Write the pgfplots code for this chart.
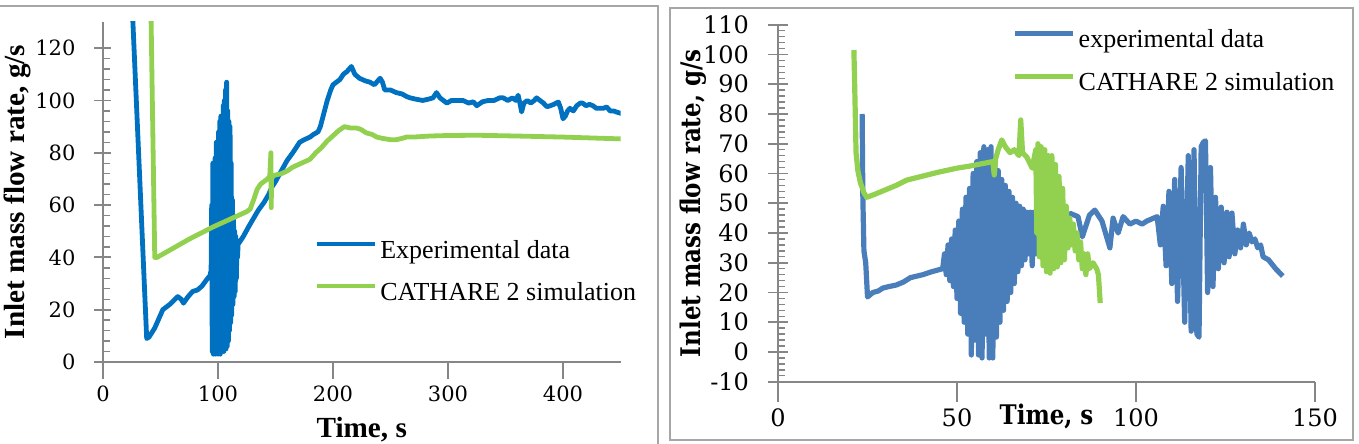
\documentclass[border=0pt]{standalone}
\usepackage{fontspec}
\setmainfont{Liberation Serif}
\newfontfamily\dvs{DejaVu Serif}
\newfontfamily\dvsn[FakeStretch=0.85]{DejaVu Serif}
\usepackage{pgfplots}
\pgfplotsset{compat=1.18}

\definecolor{lblue}{HTML}{0070C0}
\definecolor{lgreen}{HTML}{92D050}
\definecolor{rblue}{HTML}{4A7EBB}
\definecolor{rgreen}{HTML}{92D050}
\definecolor{axisgray}{HTML}{868686}
\definecolor{framegray}{HTML}{A6A6A6}

\pgfplotsset{
  flowaxis/.style={
    scale only axis,
    axis x line*=bottom,
    axis y line*=left,
    axis line style={draw=axisgray, line width=0.9pt},
    major tick style={draw=axisgray, line width=0.9pt},
    minor tick style={draw=axisgray, line width=0.7pt},
    xtick align=outside,
    ytick align=center,
    legend cell align=left,
  },
}

\begin{document}
\begin{tikzpicture}
\useasboundingbox (0pt,0pt) rectangle (679.5pt,222pt);
% panel frames
\draw[framegray, line width=0.8pt] (0pt,219pt) -- (329pt,219pt) -- (329pt,0pt);
\draw[framegray, line width=0.8pt] (335pt,2pt) rectangle (676.5pt,218pt);

% ---------------- left panel ----------------
\begin{axis}[flowaxis,
  at={(51.5pt,41pt)}, anchor=origin,
  width=258.75pt, height=170pt,
  xmin=0, xmax=450, ymin=0, ymax=130,
  xtick={0,100,200,300,400}, xticklabels={0,100,200,300,400},
  ytick={0,20,40,60,80,100,120}, yticklabels={0,20,40,60,80,100,120},
  minor y tick num=4,
  major tick length=8.5pt, minor tick length=3.5pt,
  minor y tick style={xshift=1.75pt},
  tick label style={font=\dvs\fontsize{10.5}{12}\selectfont},
  yticklabel style={xshift=-6pt},
  every axis x label/.style={at={(axis description cs:0.5,-0.2)}, anchor=center},
  every axis y label/.style={at={(axis description cs:-0.1662,0.5)}, rotate=90, anchor=center},
  xlabel={Time, s},
  ylabel={Inlet mass flow rate, g/s},
  label style={font=\bfseries\fontsize{14.6}{16}\selectfont},
  legend style={at={(axis description cs:0.408,0.262)}, anchor=west,
    draw=none, fill=none, font=\fontsize{13}{15}\selectfont,
    inner xsep=0pt, inner ysep=0pt, row sep=9.5pt,
    nodes={inner xsep=1.5pt, inner ysep=0pt, text height=9pt, text depth=2.5pt}},
  legend image code/.code={\draw[#1] (0pt,4pt) -- (29pt,4pt);},
]
\addplot[lblue, line width=2.4pt, line join=round] coordinates {
(25,140) (38,9) (40,9.5) (45,13) (52,20) (58,22) (65,25) (68,24) (70,22.5)
(74,25) (78,27) (82,27.5) (86,29) (91,32) (93,33)
(94,35) (94.5,60) (95,4) (95.5,76) (96,3) (96.5,70) (97,4) (97.5,78) (98,3)
(98.5,84) (99,4) (99.5,80) (100,3) (100.5,88) (101,4) (101.5,92) (102,3)
(102.5,94) (103,4) (103.5,90) (104,5) (104.5,98) (105,4) (105.5,100) (106,6)
(106.5,104) (107,5) (107.5,107) (108,6) (108.5,96) (109,8) (109.5,92) (110,12)
(110.5,90) (111,15) (111.5,76) (112,18) (112.5,62) (113,22) (113.5,56) (114,25)
(114.5,50) (115,27) (115.5,48) (116,32) (116.5,46) (117,40) (117.5,45) (119,46)
(122,48) (127,52) (131,55) (135,58) (140,61) (144,64) (147,67) (150,69)
(155,73) (160,77) (165,80) (171,84) (175,85) (180,86) (183,87) (187,88)
(189,90) (192,95) (195,100) (198,104) (200,106) (203,107) (206,108) (209,110)
(212,111) (216,113) (219,110) (223,108.5) (228,107.5) (232,107) (236,106)
(241,108.5) (243,107) (245,104) (250,104) (255,103) (260,102.5) (264,101.5)
(267,101) (272,100.5) (278,100) (283,100.5) (287,101) (290,103) (293,101)
(296,100) (299,99) (303,100) (308,100) (313,100) (318,99) (322,99.5) (325,98)
(330,99.5) (335,100) (340,100) (345,101) (348,101) (352,100) (356,101) (359,100)
(361,102) (363,98) (364,95.6) (366,99) (369,100) (372,99) (375,100) (377,101)
(380,100) (383,99) (386,97.6) (389,98) (392,98.5) (394,99) (396,99.4) (398,97)
(400,93) (402,94) (404,96) (406,97) (409,96) (412,98) (415,99) (417,99)
(420,98) (423,98.5) (426,98) (429,97) (432,97) (435,97) (438,97.5) (441,96)
(444,96) (447,95.5) (451,95)
};
\addlegendentry{Experimental data}
\addplot[lgreen, line width=2.4pt, line join=round] coordinates {
(41.5,140) (45,40) (47,40) (55,42) (65,44.5) (75,47) (84,49) (95,51.5)
(105,53.5) (115,55.5) (125,57.5) (128,58.5) (131,62) (134,66) (137,68)
(140,69) (143,70) (145,71) (146,80) (146.3,59) (146.6,71) (150,71.5)
(155,72) (160,73) (165,74.5) (170,75.5) (175,76.5) (180,77.5) (185,80)
(190,82) (195,84.5) (200,86.5) (205,88.5) (210,90) (215,89.5) (220,89.5)
(224,89) (229,87.6) (234,87) (238,86) (243,85.5) (250,85) (255,85)
(260,85.5) (264,86) (270,86) (284,86.4) (300,86.6) (325,86.7) (360,86.4)
(400,86) (451,85.3)
};
\addlegendentry{CATHARE 2 simulation}
\end{axis}

% ---------------- right panel ----------------
\begin{axis}[flowaxis,
  at={(389pt,46pt)}, anchor=origin,
  width=268.5pt, height=178.5pt,
  xmin=0, xmax=150, ymin=-10, ymax=110,
  xtick={0,50,100,150}, xticklabels={0,50,100,150},
  ytick={-10,0,10,20,30,40,50,60,70,80,90,100,110},
  yticklabels={-10,0,10,20,30,40,50,60,70,80,90,100,110},
  minor y tick num=4,
  major tick length=10pt, minor tick length=3.5pt,
  minor y tick style={xshift=1.75pt},
  tick label style={font=\dvs\fontsize{12}{14}\selectfont},
  yticklabel style={xshift=-6pt},
  every axis x label/.style={at={(axis description cs:0.5,-0.098)}, anchor=center},
  every axis y label/.style={at={(axis description cs:-0.1583,0.5)}, rotate=90, anchor=center},
  xlabel={Time, s},
  ylabel={Inlet mass flow rate, g/s},
  label style={font=\dvsn\bfseries\fontsize{13.5}{15}\selectfont},
  legend style={at={(axis description cs:0.436,0.893)}, anchor=west,
    draw=none, fill=none, font=\fontsize{13}{15}\selectfont,
    inner xsep=0pt, inner ysep=0pt, row sep=10pt,
    nodes={inner xsep=1.5pt, inner ysep=0pt, text height=9pt, text depth=2.5pt}},
  legend image code/.code={\draw[#1] (0pt,4pt) -- (29pt,4pt);},
]
\addplot[rblue, line width=2.6pt, line join=round] coordinates {
(23.5,80) (23.7,52) (24,34) (24.5,30) (25,18.5) (26.5,20) (28,20.5) (29.3,21.5)
(31,22) (33,22.5) (35,23.5) (37,25) (40.5,26) (43,27) (46,28)
(46.5,33) (47,26) (47.5,36) (48,24) (48.5,38) (49,22) (49.5,41) (50,18)
(50.5,44) (51,13) (51.5,48) (52,10) (52.5,52) (53,6) (53.5,55) (54,-1)
(54.5,60) (55,4) (55.5,64) (56,-1) (56.5,67) (57,-2) (57.5,69) (58,6)
(58.5,68) (59,-2) (59.5,69) (60,-2) (60.5,65) (61,5) (61.5,61) (62,10)
(62.5,58) (63,14) (63.5,56) (64,17) (64.5,54) (65,20) (65.5,52) (66,23)
(66.5,50) (67,27) (67.5,49) (68,29) (68.5,48) (69,31) (69.5,47) (70,33)
(70.5,47) (71,29) (71.5,47) (72,33) (72.5,46.5) (73,34) (73.5,46) (74,36)
(74.5,46) (75,38) (75.5,46) (76,40) (76.5,46) (77,41) (77.5,46) (78,42)
(78.5,46.5) (79,43) (79.5,47) (80,44) (81.6,46.6) (83.8,45.5) (85,38.7)
(87,46) (88.5,47.7) (90.5,44) (92.7,35) (93.6,45) (95,40) (96.4,45.5)
(98.3,43) (100,44) (101.7,43) (103,44) (105.9,45.5)
(106.8,36) (107.6,49) (108.4,29) (109.2,54) (110,23) (110.8,58) (111.6,17)
(112.6,62) (113.6,10) (114.6,66) (115.4,7) (116.2,68) (117,6) (117.6,5)
(118.2,69) (118.8,70.5) (119.4,71) (120,20) (120.8,62) (121.5,22) (122.2,52)
(123,28) (123.8,48.7) (124.6,30) (125.4,47) (126,32) (126.8,46.7) (127.6,33)
(128.4,41) (129.2,35) (130,43) (130.8,36) (131.6,40) (132.4,37) (133.2,38)
(134,35) (134.8,36) (135.5,32) (137,31) (139,28) (141,25.5)
};
\addlegendentry{experimental data}
\addplot[rgreen, line width=2.6pt, line join=round] coordinates {
(21.2,101.5) (21.5,85) (21.8,67) (22.3,61) (23,57) (24,53.5) (24.8,52)
(27,53) (30,54.5) (33,56) (36,57.8) (40,59) (45,60.5) (50,61.8) (53.6,62.5)
(57,63.3) (60,64) (60.4,59.5) (60.8,65) (61.5,68) (62.5,71.3) (63.5,69)
(64.8,67) (66,68) (67.3,66) (67.8,78) (68.3,67) (69.5,65.5) (71,61.8)
(72,68) (72.3,40) (72.6,70) (73,32) (73.5,69) (74,29) (74.5,68) (75,27)
(75.5,66) (76,26.5) (76.5,66) (77,28) (77.5,63) (78,28.6) (78.5,59) (79,30)
(79.5,55) (80,31) (80.5,49) (81,35) (81.5,45) (82,36) (82.5,43) (83,34)
(83.5,40) (84,31) (84.5,37) (85,28) (85.5,33) (86,26) (86.5,33) (87,28)
(88,30) (89,28) (89.5,26) (90,16.5)
};
\addlegendentry{CATHARE 2 simulation}
\end{axis}
\end{tikzpicture}
\end{document}
